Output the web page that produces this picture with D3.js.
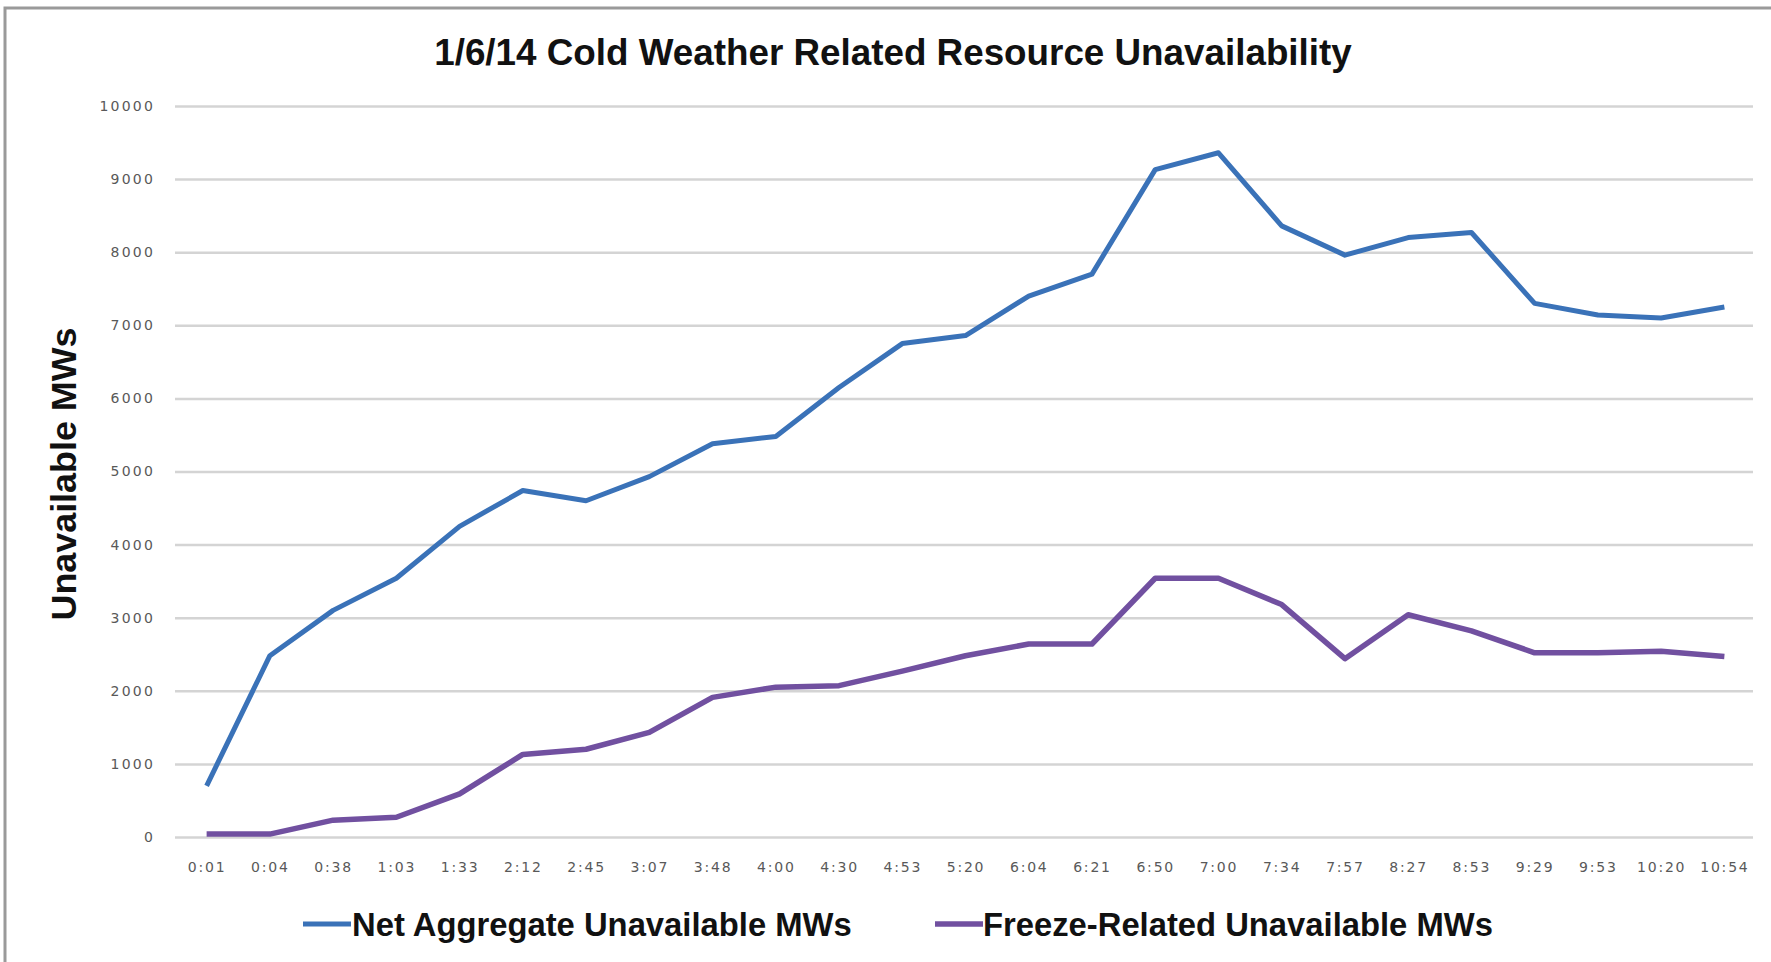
<!DOCTYPE html>
<html>
<head>
<meta charset="utf-8">
<script src="https://cdn.jsdelivr.net/npm/d3@7/dist/d3.min.js"></script>
<style>
  html, body { margin: 0; padding: 0; background: #fff; }
  svg { display: block; }
</style>
</head>
<body>
<svg id="chart" width="1771" height="962"></svg>
<script>
const categories = ["0:01","0:04","0:38","1:03","1:33","2:12","2:45","3:07","3:48","4:00","4:30","4:53","5:20","6:04","6:21","6:50","7:00","7:34","7:57","8:27","8:53","9:29","9:53","10:20","10:54"];
const netAggregate = [700,2480,3100,3540,4250,4740,4600,4930,5380,5480,6150,6750,6860,7400,7700,9130,9360,8360,7960,8200,8270,7300,7140,7100,7250];
const freezeRelated = [40,40,230,270,590,1130,1200,1430,1910,2050,2070,2270,2480,2640,2640,3540,3540,3180,2440,3040,2820,2520,2520,2540,2470];
const yTicks = [0,1000,2000,3000,4000,5000,6000,7000,8000,9000,10000];
const titleText = "1/6/14 Cold Weather Related Resource Unavailability";
const yTitle = "Unavailable MWs";
const seriesNames = ["Net Aggregate Unavailable MWs", "Freeze-Related Unavailable MWs"];

const svg = d3.select("#chart");
const W = 1771, H = 962;
const plot = { left: 175, right: 1756, top: 106, bottom: 837 };
const gridRight = 1753;
const colors = ["#3a72b8", "#7150a0"];
const widths = [5, 5.5];

// border (top and left visible)
svg.append("rect")
  .attr("x", 5).attr("y", 8)
  .attr("width", W + 20).attr("height", H + 20)
  .attr("fill", "none").attr("stroke", "#9a9a9a").attr("stroke-width", 3);

const x = d3.scalePoint().domain(categories).range([plot.left, plot.right]).padding(0.5);
const y = d3.scaleLinear().domain([0, 10000]).range([plot.bottom, plot.top]);

function fitWidth(sel, target, base) {
  sel.style("font-size", base + "px");
  const w = sel.node().getComputedTextLength();
  sel.style("font-size", (base * target / w) + "px");
}

// y axis with gridlines
const yAxis = d3.axisLeft(y).tickValues(yTicks).tickFormat(d3.format("d"))
  .tickSizeInner(-(gridRight - plot.left)).tickSizeOuter(0).tickPadding(20);
const gy = svg.append("g").attr("transform", `translate(${plot.left},0)`).call(yAxis);
gy.select(".domain").remove();
gy.selectAll(".tick line").attr("stroke", "#d4d4d4").attr("stroke-width", 2.5);
gy.selectAll(".tick text")
  .attr("fill", "#595959")
  .style("font-family", "'DejaVu Sans', sans-serif")
  .style("font-size", "14px")
  .style("letter-spacing", "2.2px");

// x axis labels
const xAxis = d3.axisBottom(x).tickSize(0).tickPadding(0);
const gx = svg.append("g").attr("transform", `translate(0,${plot.bottom})`).call(xAxis);
gx.select(".domain").remove();
gx.selectAll(".tick text")
  .attr("y", 35).attr("dy", 0)
  .attr("fill", "#595959")
  .style("font-family", "'DejaVu Sans', sans-serif")
  .style("font-size", "14px")
  .style("letter-spacing", "1.8px");

// lines
const line = d3.line().x((d, i) => x(categories[i])).y(d => y(d));
[netAggregate, freezeRelated].forEach((data, k) => {
  svg.append("path")
    .datum(data)
    .attr("d", line)
    .attr("fill", "none")
    .attr("stroke", colors[k])
    .attr("stroke-width", widths[k])
    .attr("stroke-linejoin", "round")
    .attr("stroke-linecap", "butt");
});

// title
const t = svg.append("text")
  .attr("x", 893).attr("y", 65)
  .attr("text-anchor", "middle")
  .style("font-family", "'Liberation Sans Narrow', sans-serif")
  .style("font-weight", "bold")
  .attr("fill", "#111")
  .text(titleText);
fitWidth(t, 918, 36);

// y title
const yt = svg.append("text")
  .attr("transform", "translate(76,474) rotate(-90)")
  .attr("text-anchor", "middle")
  .style("font-family", "'Liberation Sans Narrow', sans-serif")
  .style("font-weight", "bold")
  .attr("fill", "#111")
  .text(yTitle);
fitWidth(yt, 293, 36);

// legend
const legend = [
  { x1: 303, x2: 351, tx: 352, tw: 500 },
  { x1: 935, x2: 983, tx: 983, tw: 510 }
];
legend.forEach((L, k) => {
  svg.append("line")
    .attr("x1", L.x1).attr("x2", L.x2)
    .attr("y1", 924).attr("y2", 924)
    .attr("stroke", colors[k]).attr("stroke-width", widths[k]);
  const lt = svg.append("text")
    .attr("x", L.tx).attr("y", 936)
    .style("font-family", "'Liberation Sans Narrow', sans-serif")
    .style("font-weight", "bold")
    .attr("fill", "#111")
    .text(seriesNames[k]);
  fitWidth(lt, L.tw, 34);
});
</script>
</body>
</html>
